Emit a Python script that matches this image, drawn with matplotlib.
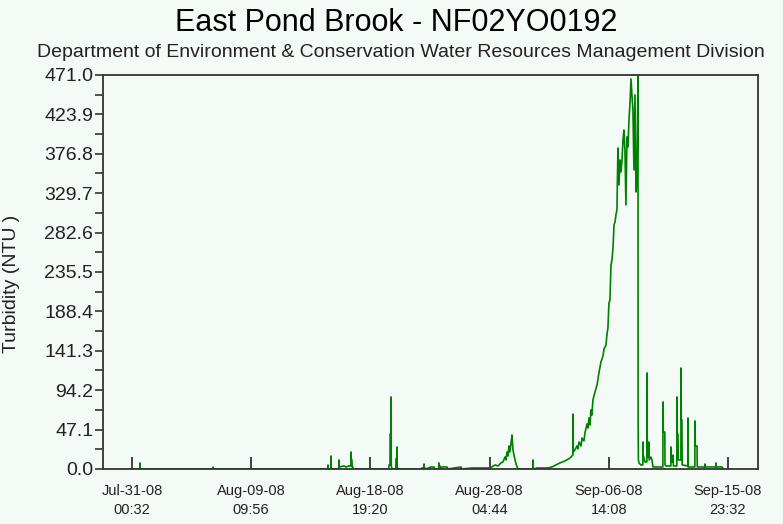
import pandas as pd
import matplotlib.pyplot as plt
from matplotlib.ticker import MultipleLocator, FormatStrFormatter

plt.rcParams['font.family'] = ['Liberation Sans', 'DejaVu Sans']

# readings, days after Jul-31-08 00:32
start = pd.Timestamp("2008-07-31 00:32")
days = [-0.16, 0.62, 0.63, 0.65, 6.37, 6.38, 6.40,
        15.43, 15.44, 15.46, 15.67, 15.68, 15.70, 16.30, 16.31, 16.33, 16.70,
        16.86, 17.10, 17.25, 17.26, 17.28, 17.33, 17.35, 17.41, 17.43,
        20.24, 20.25, 20.33, 20.34, 20.40, 20.41, 20.43, 20.49, 20.79, 20.80,
        20.86, 20.88, 20.90, 20.96,
        22.77, 22.85, 23.00, 23.01, 23.03, 23.08, 23.16, 23.56, 23.79, 23.87,
        24.18, 24.19, 24.21, 24.27, 24.35, 24.42, 24.82, 24.90, 25.92, 26.00,
        26.79, 28.05, 28.36, 28.60, 28.84, 29.07, 29.23, 29.39, 29.47, 29.55,
        29.63, 29.70, 29.78, 29.86, 29.94, 30.02, 30.10, 30.18, 30.26, 30.41,
        31.58, 31.59, 31.61, 31.91, 32.78,
        33.09, 33.41, 33.72, 34.12, 34.51, 34.74, 34.75, 34.77, 34.90, 35.06,
        35.14, 35.22, 35.38, 35.46, 35.61, 35.69, 35.85, 35.93, 36.01, 36.09,
        36.16, 36.24, 36.32, 36.48, 36.64, 36.79, 36.95, 37.11, 37.19, 37.35,
        37.42, 37.50, 37.58, 37.66, 37.74, 37.82, 37.90, 37.98, 38.06, 38.13,
        38.21, 38.29, 38.37, 38.45, 38.53, 38.61, 38.69, 38.76, 38.84, 38.92,
        39.00, 39.08, 39.16, 39.24, 39.32, 39.40, 39.47, 39.55, 39.63, 39.71,
        39.79, 39.87,
        39.88, 39.90, 39.95, 40.10, 40.25, 40.26, 40.28, 40.42, 40.57, 40.58,
        40.60, 40.72, 40.73, 40.75, 40.89, 40.97, 41.05,
        41.83, 41.84, 41.86, 41.98, 42.00, 42.07, 42.46, 42.47, 42.50, 42.62,
        42.63, 42.66, 42.93, 42.94, 42.96, 43.02, 43.04, 43.25, 43.26, 43.28,
        43.33, 43.35, 43.80, 43.81, 43.83, 44.35, 44.36, 44.38, 44.52, 44.54,
        45.14, 45.15, 45.17, 46.00, 46.01, 46.03, 46.49, 46.57]
ntu = [0.0, 0.0, 7.2, 0.0, 0.0, 2.4, 0.0,
       0.0, 4.8, 0.0, 0.0, 15.5, 0.0, 0.0, 10.8, 2.4, 3.6,
       2.4, 3.6, 3.6, 20.3, 10.8, 10.8, 2.4, 2.4, 0.0,
       0.0, 4.8, 4.8, 41.8, 41.8, 86.1, 3.6, 0.0, 0.0, 12.0,
       12.0, 26.3, 2.4, 0.0,
       0.0, 1.2, 1.2, 6.0, 1.2, 1.2, 0.0, 2.4, 2.4, 0.0,
       0.0, 7.2, 3.6, 3.6, 0.0, 2.4, 2.4, 0.0, 2.4, 0.0,
       1.2, 1.2, 2.4, 4.8, 3.6, 7.2, 8.4, 14.3, 10.8, 20.3,
       15.5, 27.5, 20.3, 29.9, 40.6, 22.7, 16.7, 10.8, 6.0, 0.0,
       0.0, 10.8, 0.0, 1.2, 1.2,
       2.4, 4.8, 7.2, 9.6, 13.1, 16.7, 65.7, 20.3, 22.7, 27.5,
       24.0, 32.3, 27.5, 37.0, 33.5, 43.0, 53.8, 49.0, 61.0, 52.6,
       70.5, 64.5, 82.5, 92.0, 100.4, 114.8, 127.9, 135.0, 143.4, 148.2,
       160.2, 168.6, 198.4, 202.0, 243.9, 249.8, 264.2, 291.7, 295.3, 303.6,
       309.6, 383.7, 339.5, 369.4, 355.0, 369.4, 393.3, 405.2, 381.3, 315.6,
       396.9, 384.9, 417.2, 437.5, 466.2, 444.7, 429.2, 357.4, 447.1, 331.1,
       350.0, 471.0,
       56.2, 10.8, 7.2, 4.8, 4.8, 32.3, 16.7, 8.4, 8.4, 114.8,
       14.3, 14.3, 32.3, 10.8, 14.3, 10.8, 2.4,
       2.4, 80.1, 44.2, 44.2, 4.8, 3.6, 3.6, 26.3, 8.4, 8.4,
       16.7, 3.6, 3.6, 86.1, 41.8, 41.8, 10.8, 10.8, 120.7, 58.6,
       58.6, 4.8, 3.6, 61.0, 2.4, 2.4, 57.4, 27.5, 27.5, 2.4,
       2.4, 6.0, 2.4, 2.4, 7.2, 2.4, 2.4, 0.0]

tick_times = ["2008-07-31 00:32", "2008-08-09 09:56", "2008-08-18 19:20",
              "2008-08-28 04:44", "2008-09-06 14:08", "2008-09-15 23:32"]
tick_labels = ["Jul-31-08\n00:32", "Aug-09-08\n09:56", "Aug-18-08\n19:20",
               "Aug-28-08\n04:44", "Sep-06-08\n14:08", "Sep-15-08\n23:32"]

bg = '#f4faf6'
times = start + pd.to_timedelta(days, unit='D')

fig = plt.figure(figsize=(7.83, 5.24), dpi=100, facecolor=bg)
ax = fig.add_axes([0.1315, 0.105, 0.8365, 0.752], facecolor=bg)
ax.plot(times, ntu, color='#008000', linewidth=1.2, zorder=2)

ax.set_xlim(start - pd.Timedelta(days=2.285), start + pd.Timedelta(days=49.32))
ax.set_xticks(pd.to_datetime(tick_times))
ax.set_xticklabels(tick_labels, fontsize=10.5, color='#222222', linespacing=1.45)
ax.tick_params(axis='x', direction='in', length=8.5, width=1.3, color='#333333', pad=11)

ax.set_ylim(0, 471.0)
ax.yaxis.set_major_locator(MultipleLocator(47.1))
ax.yaxis.set_minor_locator(MultipleLocator(23.55))
ax.yaxis.set_major_formatter(FormatStrFormatter('%.1f'))
ax.tick_params(axis='y', which='major', direction='out', length=6, width=1.2,
               color='#333333', labelsize=14, labelcolor='#222222', pad=1)
ax.tick_params(axis='y', which='minor', direction='out', length=6, width=1.2, color='#333333')
ax.set_ylabel('Turbidity (NTU )', fontsize=14, color='#222222')
ax.yaxis.set_label_coords(-0.127, 0.47)

for s in ax.spines.values():
    s.set_color('#333333')
    s.set_linewidth(1.3)

fig.text(0.506, 0.956, 'East Pond Brook - NF02YO0192', fontsize=22, ha='center', va='center')
fig.text(0.512, 0.899, 'Department of Environment & Conservation Water Resources Management Division',
         fontsize=14, ha='center', va='center', color='#222222')

fig.savefig('out.png', dpi=100, facecolor=bg)
